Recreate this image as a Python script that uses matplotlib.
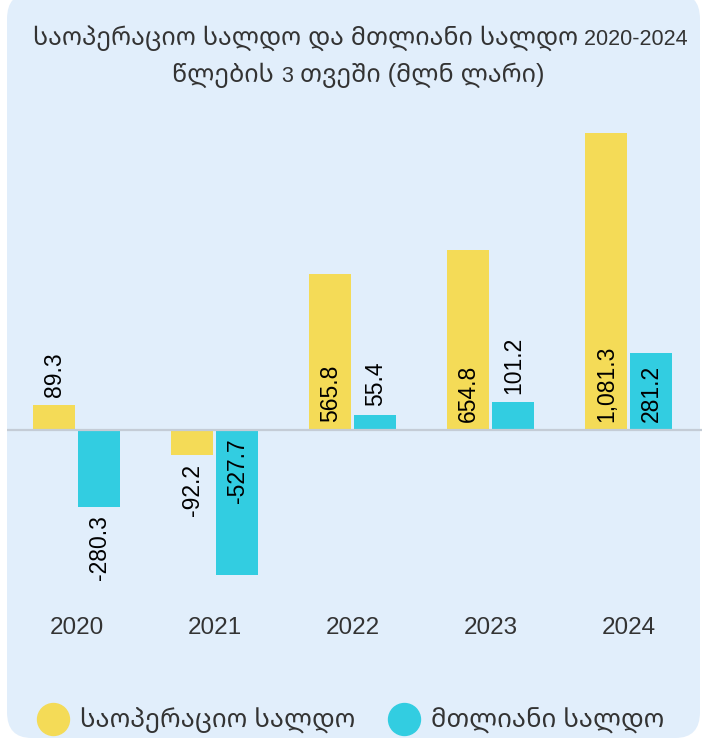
import numpy as np
import matplotlib.pyplot as plt
from matplotlib.patches import FancyBboxPatch
from matplotlib.lines import Line2D

years = ["2020", "2021", "2022", "2023", "2024"]
operating = [89.3, -92.2, 565.8, 654.8, 1081.3]
total = [-280.3, -527.7, 55.4, 101.2, 281.2]
series_names = ["საოპერაციო სალდო", "მთლიანი სალდო"]
# title split in runs: Georgian script is set a bit larger than the digits
title_runs = [
    [("საოპერაციო სალდო და მთლიანი სალდო", 18), (" 2020-2024", 15.5)],
    [("წლების ", 18), ("3", 15.5), (" თვეში (მლნ ლარი)", 18)],
]

YELLOW = "#F4DB57"
TEAL = "#32CDE1"
BG = "#E1EEFB"
FONT = ["Liberation Sans", "Noto Sans Georgian", "DejaVu Sans"]

plt.rcParams["font.family"] = FONT

W, H = 702, 740
fig = plt.figure(figsize=(W / 100, H / 100), dpi=100)
fig.patch.set_facecolor("white")

# rounded card background
card = FancyBboxPatch((7 / W, 2 / H), 693 / W, 745 / H,
                      boxstyle="round,pad=0,rounding_size=0.035",
                      transform=fig.transFigure, facecolor=BG,
                      edgecolor="none", zorder=-10)
fig.patches.append(card)

ax = fig.add_axes([7 / W, (740 - 600) / H, 695 / W, 500 / H])
ax.set_facecolor("none")
ax.set_zorder(5)
ax.set_xlim(-0.507, 4.53)
ax.set_ylim(-618, 1200)

x = np.arange(len(years))
bw = 0.304
off = 0.163
b1 = ax.bar(x - off, operating, bw, color=YELLOW, zorder=2)
b2 = ax.bar(x + off, total, bw, color=TEAL, zorder=2)
ax.axhline(0, color="#C4CCD6", lw=1.6, zorder=3)

for s in ax.spines.values():
    s.set_visible(False)
ax.set_yticks([])
ax.set_xticks(x)
ax.set_xticklabels(years, fontsize=17.5, color="#333333")
ax.tick_params(axis="x", length=0, pad=12)

fig.canvas.draw()
r = fig.canvas.get_renderer()
px_per_unit = ax.transData.transform((0, 1))[1] - ax.transData.transform((0, 0))[1]

for bars, vals in [(b1, operating), (b2, total)]:
    for rect, v in zip(bars, vals):
        cx = rect.get_x() + rect.get_width() / 2
        lab = f"{v:,.1f}"
        t = ax.text(0, 0, lab, rotation=90, fontsize=16.5)
        tlen = t.get_window_extent(r).height
        t.remove()
        bar_px = abs(v) * px_per_unit
        sign = 1 if v >= 0 else -1
        if bar_px > tlen + 14:
            anchor = (cx, 0)
        else:
            anchor = (cx, v)
        ax.annotate(lab, anchor, xytext=(0, 6 * sign), textcoords="offset points",
                    rotation=90, ha="center", va="bottom" if sign > 0 else "top",
                    fontsize=16.5, color="black", zorder=4)


def draw_runs(runs, xc, yb):
    # place text runs one after another on a common baseline, centred on xc
    texts = [fig.text(0, yb, s, fontsize=fs, va="baseline", color="#333333")
             for s, fs in runs]
    widths = [t.get_window_extent(r).width for t in texts]
    xs = xc - sum(widths) / 2
    for t, w in zip(texts, widths):
        t.set_x(xs / W)
        xs += w


draw_runs(title_runs[0], 360, 1 - 45 / H)
draw_runs(title_runs[1], 358, 1 - 82 / H)

handles = [Line2D([], [], marker="o", ls="none", markersize=23, color=c)
           for c in (YELLOW, TEAL)]
fig.legend(handles, series_names, loc="center left", ncol=2,
           bbox_to_anchor=(14 / W, 1 - 721 / H), frameon=False,
           fontsize=18.5, labelcolor="#333333", handletextpad=0.45,
           columnspacing=1.3, handlelength=1.2)

fig.savefig("out.png", dpi=100)
